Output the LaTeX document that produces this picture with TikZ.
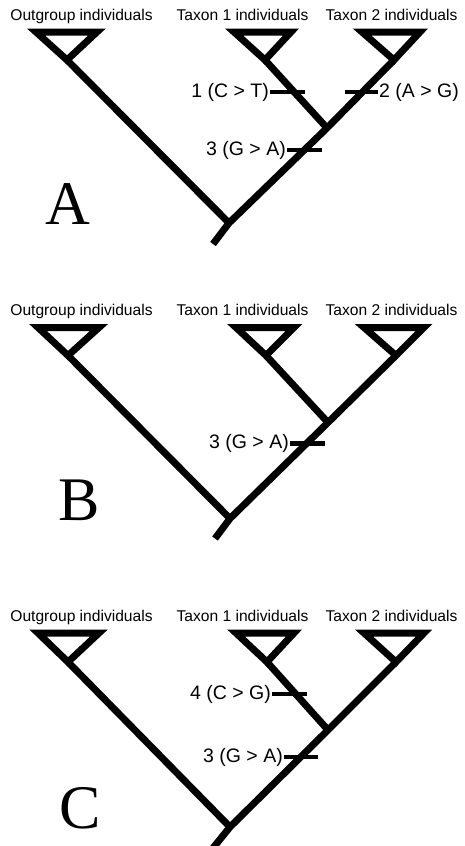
\documentclass[tikz,border=0pt]{standalone}
\usepackage{fontspec}
\newfontfamily\labelfont{Liberation Sans}
\newfontfamily\letterfont{Liberation Serif}
\tikzset{
    treetip/.style={line width=7pt, line join=miter},
    treebranch/.style={line width=7pt, line join=miter},
    mutbar/.style={line width=4.5pt},
    taxonlabel/.style={font=\labelfont\fontsize{15.6}{15.6}\selectfont, inner sep=0pt, anchor=base},
    mutlabel/.style={font=\labelfont\fontsize{19.5}{19.5}\selectfont, inner sep=1pt},
    panelletter/.style={font=\letterfont\fontsize{62}{62}\selectfont, inner sep=0pt}
}
\begin{document}
\begin{tikzpicture}[x=1pt, y=-1pt]
    \useasboundingbox (0,0) rectangle (464,846);
    % panel A
    \begin{scope}[shift={(0,32)}]
        \node[taxonlabel] (outlabA) at (81.5,-12) {Outgroup individuals};
        \node[taxonlabel] (onelabA) at (242.5,-12) {Taxon 1 individuals};
        \node[taxonlabel] (twolabA) at (391.5,-12) {Taxon 2 individuals};
        \coordinate (outA) at (67,28);
        \coordinate (oneA) at (265,28);
        \coordinate (twoA) at (394,28);
        \coordinate (innerA) at (327,96);
        \coordinate (rootA) at (229,191);
        \coordinate (stemA) at (213,212);
        \draw[treetip] (36,0) -- (97,0) -- (outA) -- cycle;
        \draw[treetip] (234,0) -- (291,0) -- (oneA) -- cycle;
        \draw[treetip] (362,0) -- (420,0) -- (twoA) -- cycle;
        \draw[treebranch] (outA) -- (rootA);
        \draw[treebranch] (oneA) -- (innerA);
        \draw[treebranch] (twoA) -- (innerA) -- (rootA) -- (stemA);
        \node[mutlabel, anchor=east] (mutoneA) at (270,60) {1 (C > T)};
        \coordinate (mutoneendA) at (305,60);
        \draw[mutbar] (mutoneA) -- (mutoneendA);
        \node[mutlabel, anchor=west] (muttwoA) at (378,60) {2 (A > G)};
        \coordinate (muttwoendA) at (345,60);
        \draw[mutbar] (muttwoA) -- (muttwoendA);
        \node[mutlabel, anchor=east] (mutthreeA) at (287,118) {3 (G > A)};
        \coordinate (mutthreeendA) at (322,118);
        \draw[mutbar] (mutthreeA) -- (mutthreeendA);
        \node[panelletter] (letterA) at (68,172) {A};
    \end{scope}
    % panel B
    \begin{scope}[shift={(0,327.5)}]
        \node[taxonlabel] (outlabB) at (81.5,-12) {Outgroup individuals};
        \node[taxonlabel] (onelabB) at (242.5,-12) {Taxon 1 individuals};
        \node[taxonlabel] (twolabB) at (391.5,-12) {Taxon 2 individuals};
        \coordinate (outB) at (68,28);
        \coordinate (oneB) at (266,28);
        \coordinate (twoB) at (396,28);
        \coordinate (innerB) at (328,95);
        \coordinate (rootB) at (230,191);
        \coordinate (stemB) at (215,211);
        \draw[treetip] (38,0) -- (99,0) -- (outB) -- cycle;
        \draw[treetip] (236,0) -- (294,0) -- (oneB) -- cycle;
        \draw[treetip] (364,0) -- (424,0) -- (twoB) -- cycle;
        \draw[treebranch] (outB) -- (rootB);
        \draw[treebranch] (oneB) -- (innerB);
        \draw[treebranch] (twoB) -- (innerB) -- (rootB) -- (stemB);
        \node[mutlabel, anchor=east] (mutthreeB) at (290,116) {3 (G > A)};
        \coordinate (mutthreeendB) at (325,116);
        \draw[mutbar] (mutthreeB) -- (mutthreeendB);
        \node[panelletter] (letterB) at (79,173) {B};
    \end{scope}
    % panel C
    \begin{scope}[shift={(0,633)}]
        \node[taxonlabel] (outlabC) at (81.5,-12) {Outgroup individuals};
        \node[taxonlabel] (onelabC) at (242.5,-12) {Taxon 1 individuals};
        \node[taxonlabel] (twolabC) at (391.5,-12) {Taxon 2 individuals};
        \coordinate (outC) at (68,29);
        \coordinate (oneC) at (267,29);
        \coordinate (twoC) at (396,29);
        \coordinate (innerC) at (328,97);
        \coordinate (rootC) at (230,194);
        \coordinate (stemC) at (213,215);
        \draw[treetip] (38,0) -- (99,0) -- (outC) -- cycle;
        \draw[treetip] (236,0) -- (294,0) -- (oneC) -- cycle;
        \draw[treetip] (364,0) -- (424,0) -- (twoC) -- cycle;
        \draw[treebranch] (outC) -- (rootC);
        \draw[treebranch] (oneC) -- (innerC);
        \draw[treebranch] (twoC) -- (innerC) -- (rootC) -- (stemC);
        \node[mutlabel, anchor=east] (mutfourC) at (272,61) {4 (C > G)};
        \coordinate (mutfourendC) at (307,61);
        \draw[mutbar] (mutfourC) -- (mutfourendC);
        \node[mutlabel, anchor=east] (mutthreeC) at (284,124) {3 (G > A)};
        \coordinate (mutthreeendC) at (318,124);
        \draw[mutbar] (mutthreeC) -- (mutthreeendC);
        \node[panelletter] (letterC) at (80,175) {C};
    \end{scope}
\end{tikzpicture}
\end{document}
